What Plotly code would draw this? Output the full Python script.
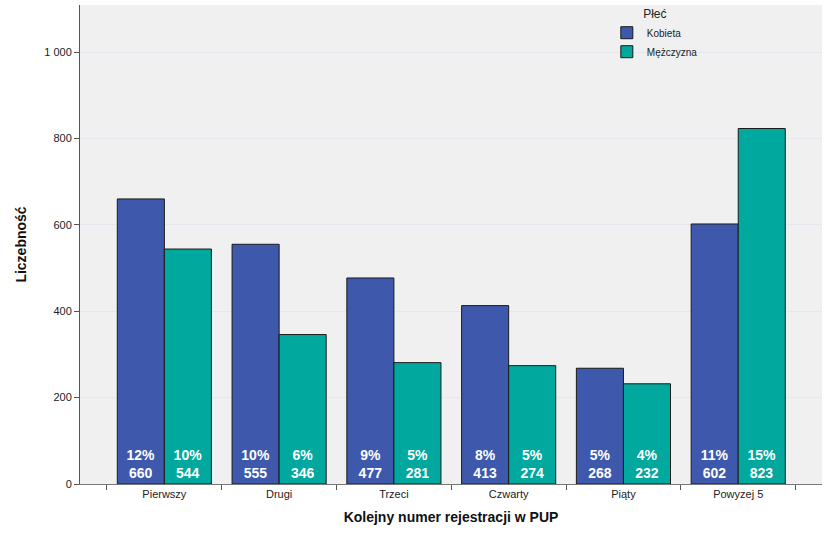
import plotly.graph_objects as go

categories = ["Pierwszy", "Drugi", "Trzeci", "Czwarty", "Piąty", "Powyżej 5"]
cat_labels = ["Pierwszy", "Drugi", "Trzeci", "Czwarty", "Piąty", "Powyzej 5"]
kobieta = [660, 555, 477, 413, 268, 602]
mezczyzna = [544, 346, 281, 274, 232, 823]
kobieta_pct = ["12%", "10%", "9%", "8%", "5%", "11%"]
mezczyzna_pct = ["10%", "6%", "5%", "5%", "4%", "15%"]
y_ticks = [0, 200, 400, 600, 800, 1000]
y_ticklabels = ["0", "200", "400", "600", "800", "1 000"]

fig = go.Figure()
for name, vals, pct, color in [
    ("Kobieta", kobieta, kobieta_pct, "#3E58AC"),
    ("Mężczyzna", mezczyzna, mezczyzna_pct, "#00A89E"),
]:
    fig.add_trace(go.Bar(
        x=cat_labels, y=vals, name=name,
        marker=dict(color=color, line=dict(color="#1a1a1a", width=1)),
        text=[f"{p}<br>{v}" for p, v in zip(pct, vals)],
        textposition="inside", insidetextanchor="start",
        textangle=0,
        textfont=dict(family="Arial, Liberation Sans, sans-serif", size=14, color="white", weight="bold"),
        constraintext="none",
    ))

fig.update_layout(
    width=831, height=538,
    margin=dict(l=80, r=9, t=5, b=54, autoexpand=False),
    paper_bgcolor="white", plot_bgcolor="#F0F0F0",
    barmode="group", bargap=0.18, bargroupgap=0,
    font=dict(family="Arial, Liberation Sans, sans-serif", size=11, color="#222"),
    showlegend=True,
    legend=dict(
        title=dict(text="Płeć", side="top center", font=dict(size=12)),
        x=0.71, y=1.005, xanchor="left", yanchor="top",
        bgcolor="rgba(0,0,0,0)", font=dict(size=10),
        itemwidth=30, tracegroupgap=0,
    ),
)
fig.update_xaxes(
    type="category", range=[-0.735, 5.73], automargin=False,
    tickson="boundaries", ticks="outside", ticklen=5, tickcolor="#555",
    showline=True, linecolor="#777", linewidth=1, showgrid=False,
    title=dict(text="Kolejny numer rejestracji w PUP", font=dict(size=14, color="#111", weight="bold"), standoff=12),
    tickfont=dict(size=11, color="#222"),
)
fig.update_yaxes(
    range=[0, 1109], tickvals=y_ticks, ticktext=y_ticklabels, automargin=False,
    ticks="outside", ticklen=5, tickcolor="#555",
    showline=True, linecolor="#555", linewidth=1,
    showgrid=True, gridcolor="#E4E8EE", gridwidth=1, zeroline=False,
    title=dict(text="Liczebność", font=dict(size=14, color="#111", weight="bold"), standoff=14),
    tickfont=dict(size=11, color="#222"),
)

fig.write_html(
    "out.html",
    config={"displayModeBar": False},
    post_script="document.body.style.margin='0';document.body.style.overflow='hidden';",
)
